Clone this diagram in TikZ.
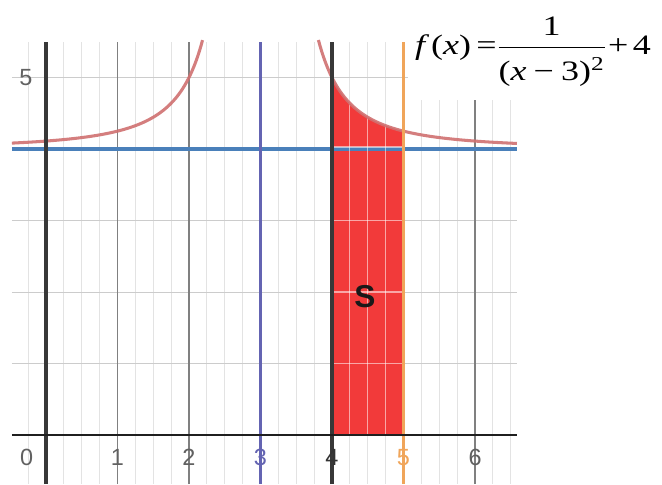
\documentclass[tikz,border=0pt]{standalone}
\usepackage{graphicx}
\usepackage{fontspec}
\newfontfamily\lsans{Liberation Sans}
\newfontfamily\tserif{Liberation Serif}
\definecolor{curvecol}{RGB}{208,112,112}
\definecolor{asymcol}{RGB}{74,128,186}
\definecolor{purplecol}{RGB}{100,100,178}
\definecolor{orangecol}{RGB}{240,165,90}
\definecolor{regioncol}{RGB}{242,58,58}
\begin{document}
\begin{tikzpicture}[x=2.145cm,y=2.145cm,
  minorgrid/.style={draw=black!11,line width=0.85pt},
  majorgrid/.style={draw=black!50,line width=0.9pt},
  hgrid/.style={draw=black!20,line width=0.9pt},
  ingrid/.style={draw=white,opacity=0.55,line width=1pt},
  ticklbl/.style={font=\lsans\fontsize{20}{24}\selectfont,text=black!62,inner sep=0pt},
  darkline/.style={draw=black!78,line width=2.6pt},
  fcurve/.style={draw=curvecol,line width=2.6pt,opacity=0.9}]
\useasboundingbox (-0.643,-0.685) rectangle (8.615,6.084);
\fill[white] (-0.643,-0.685) rectangle (8.615,6.084);
% coordinates of plot frame
\coordinate (L) at (-0.476,0);
\coordinate (R) at (6.587,0);
% minor vertical grid lines
\foreach \i in {-1,...,26}{
  \pgfmathtruncatemacro\r{mod(\i+4,4)}
  \ifnum\r=0\else
    \draw[minorgrid] (\i/4,-0.685) -- (\i/4,5.5);
  \fi
}
% horizontal grid lines
\foreach \y in {1,2,3,5}{
  \draw[hgrid] (-0.476,\y) -- (6.587,\y);
}
% major vertical grid lines
\foreach \x in {1,2,6}{
  \draw[majorgrid] (\x,-0.685) -- (\x,5.5);
}
% shaded region S
\fill[regioncol] (4,0) -- plot[domain=4:5,samples=40] (\x,{1/((\x-3)^2)+4}) -- (5,0) -- cycle;
% asymptote y=4
\draw[draw=asymcol,line width=2.6pt] (-0.476,4) -- (6.587,4);
\begin{scope}
  \clip (4,0) -- plot[domain=4:5,samples=40] (\x,{1/((\x-3)^2)+4}) -- (5,0) -- cycle;
  \foreach \x in {4.25,4.5,4.75}{\draw[ingrid] (\x,0) -- (\x,5.5);}
  \foreach \y in {1,2,3}{\draw[ingrid] (4,\y) -- (5,\y);}
  \draw[ingrid,line width=1.2pt] (4,4.03) -- (5,4.03);
\end{scope}
% curve
\draw[fcurve] plot[domain=-0.476:2.19,samples=120] (\x,{1/((\x-3)^2)+4});
\draw[fcurve] plot[domain=3.81:6.587,samples=120] (\x,{1/((\x-3)^2)+4});
% vertical special lines
\draw[darkline] (0,-0.685) -- (0,5.5);
\draw[draw=purplecol,line width=1.8pt] (3,-0.685) -- (3,5.5);
\draw[darkline] (4,-0.685) -- (4,5.5);
\draw[draw=orangecol,line width=1.8pt] (5,-0.685) -- (5,5.5);
% x-axis
\draw[draw=black!88,line width=1.8pt] (L) -- (R);
% tick labels
\node[ticklbl] (t0) at (-0.27,-0.31) {0};
\node[ticklbl] (t1) at (1,-0.31) {1};
\node[ticklbl] (t2) at (2,-0.31) {2};
\node[ticklbl,text=purplecol] (t3) at (3,-0.31) {3};
\node[ticklbl,text=black!80] (t4) at (4,-0.31) {4};
\node[ticklbl,text=orangecol] (t5) at (5,-0.31) {5};
\node[ticklbl] (t6) at (6,-0.31) {6};
\node[ticklbl] (y5) at (-0.28,5.0) {5};
% region label
\node[font=\lsans\bfseries\fontsize{27}{30}\selectfont,text=black!90] (S) at (4.46,1.93) {S};
% formula with white backing
\fill[white] (5.063,4.685) rectangle (8.615,6.084);
\node[anchor=base west,inner sep=0pt,font=\tserif\fontsize{24}{28}\selectfont] (formula) at (5.16,5.315)
 {\scalebox{1.28}[1]{\textit{f}\kern0.05em(\textit{x})\kern0.15em=$\displaystyle\frac{\hbox{1}}{\hbox{\rule{0pt}{1.12em}(\textit{x}\kern0.2em−\kern0.2em3)\textsuperscript{2}}}$\kern0.05em+\kern0.12em4}};
\end{tikzpicture}
\end{document}
